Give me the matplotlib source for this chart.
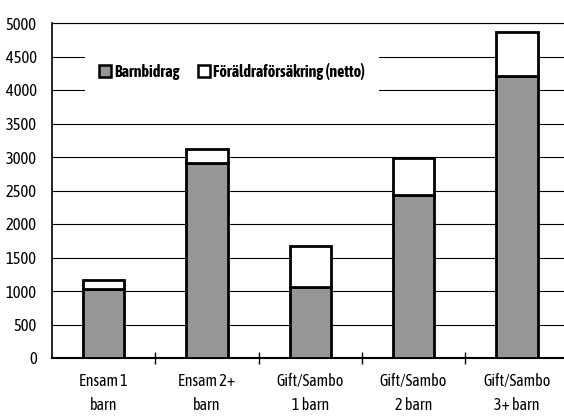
import numpy as np
import matplotlib.pyplot as plt
from matplotlib import font_manager

fonts = font_manager.fontManager.ttflist
narrow = sorted({f.name for f in fonts if 'Narrow' in f.name or 'Condensed' in f.name})
with_bold = [n for n in narrow
             if any(f.name == n and f.weight in ('bold', 700) for f in fonts)]
plt.rcParams['font.family'] = with_bold + narrow + ['DejaVu Sans']

categories = ['Ensam 1\nbarn', 'Ensam 2+\nbarn', 'Gift/Sambo\n1 barn',
              'Gift/Sambo\n2 barn', 'Gift/Sambo\n3+ barn']
barnbidrag = [1030, 2905, 1065, 2440, 4210]
foraldraf = [130, 210, 600, 550, 660]

fig = plt.figure(figsize=(5.64, 4.17), dpi=100)
ax = fig.add_axes([52 / 564, 1 - 358 / 417, 516.5 / 564, 335 / 417])

x = np.arange(len(categories))
ax.bar(x, barnbidrag, width=0.4, color='#969696', edgecolor='black',
       linewidth=2, label='Barnbidrag', zorder=3)
ax.bar(x, foraldraf, width=0.4, bottom=barnbidrag, color='white',
       edgecolor='black', linewidth=2, label='Föräldraförsäkring (netto)',
       zorder=3)

ax.set_xlim(-0.5, len(categories) - 0.5)
ax.set_ylim(0, 5000)
ax.set_yticks(np.arange(0, 5001, 500))
ax.yaxis.grid(True, color='black', linewidth=0.8)
ax.set_axisbelow(True)
ax.tick_params(axis='y', length=0, labelsize=12, pad=11)

ax.set_xticks(x)
ax.set_xticklabels(categories, fontsize=11.5, linespacing=1.5)
ax.set_xticks(np.arange(0.5, len(categories) - 1, 1), minor=True)
ax.tick_params(axis='x', which='major', length=0, pad=11)
ax.tick_params(axis='x', which='minor', length=8, direction='inout', width=1)

ax.spines['right'].set_visible(False)
ax.spines['top'].set_linewidth(0.8)
ax.spines['left'].set_linewidth(1.2)
ax.spines['bottom'].set_linewidth(1.5)

leg = ax.legend(loc='upper left', bbox_to_anchor=(0.064, 0.925), ncol=2,
                frameon=True, edgecolor='none', fancybox=False, framealpha=1,
                prop={'weight': 'bold', 'size': 11.5}, handlelength=0.7,
                handleheight=0.7, handletextpad=0.2, columnspacing=1.2,
                borderpad=0.9, borderaxespad=0)
leg.get_frame().set_linewidth(0)
leg.set_zorder(2.5)
for h in leg.legend_handles:
    h.set_linewidth(1.8)

fig.savefig('out.png', dpi=100)
